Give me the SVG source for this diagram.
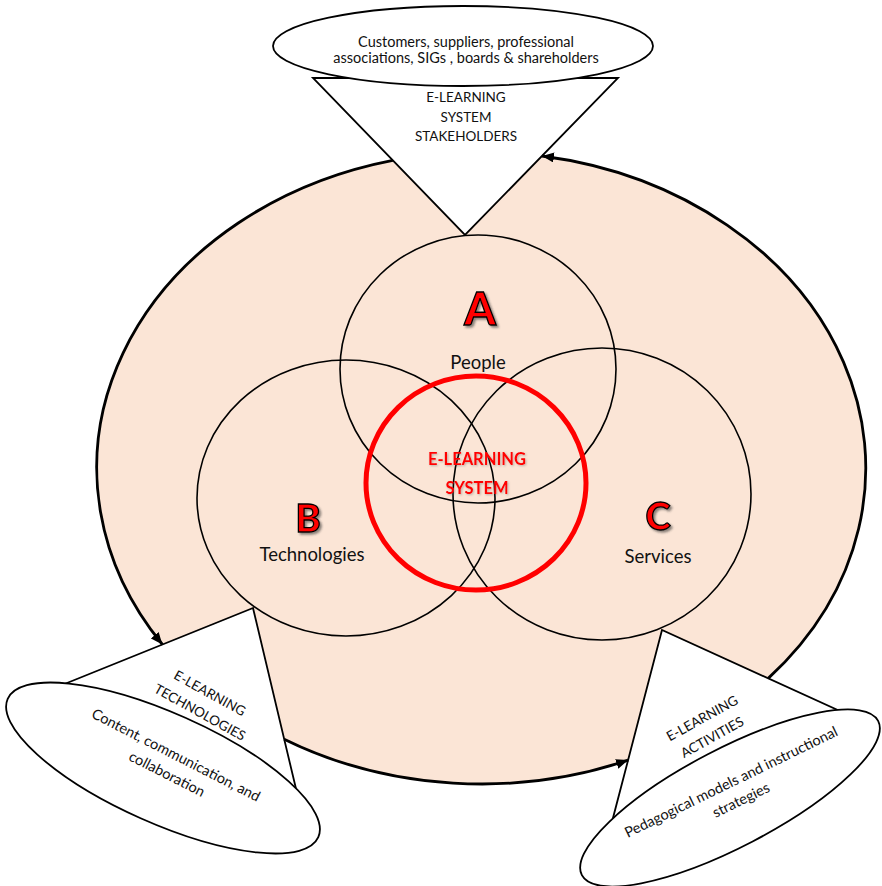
<svg xmlns="http://www.w3.org/2000/svg" width="882" height="886" viewBox="0 0 882 886">
<defs>
<style>
.ln{fill:none;stroke:#000;stroke-width:1.6}
.tri{fill:#fff;stroke:#000;stroke-width:1.8;stroke-linejoin:miter}
.ell{fill:#fff;stroke:#000;stroke-width:1.8}
.arc{fill:none;stroke:#000;stroke-width:2.8}
.t{font-family:Lato,"Open Sans","Liberation Sans",sans-serif;fill:#111;text-anchor:middle}
.s13{font-size:13.5px}
.s14{font-size:14.5px}
.s17{font-size:18.5px}
.big{font-family:Lato,"Liberation Sans",sans-serif;font-weight:900;fill:#ff0000;stroke:#000;stroke-width:1.3;text-anchor:middle}
.red{font-family:Lato,"Liberation Sans",sans-serif;font-weight:bold;font-size:16.5px;fill:#ff0000;text-anchor:middle}
</style>
<marker id="ah" markerUnits="userSpaceOnUse" markerWidth="14" markerHeight="11" refX="12" refY="5" orient="auto">
<path d="M0,0 L12,5 L0,10 z" fill="#000"/>
</marker>
<filter id="sh" x="-20%" y="-20%" width="150%" height="150%">
<feDropShadow dx="2" dy="2" stdDeviation="1" flood-color="#333" flood-opacity="0.55"/>
</filter>
<filter id="sh2" x="-20%" y="-20%" width="150%" height="150%">
<feDropShadow dx="1" dy="1" stdDeviation="1" flood-color="#555" flood-opacity="0.4"/>
</filter>
</defs>

<g id="background">
<ellipse cx="481.5" cy="468" rx="384.5" ry="316" fill="#FBE5D6"/>
</g>

<g id="stakeholders-triangle">
<polygon class="tri" points="313,78 618,78 465,235"/>
<text class="t s13" x="466" y="102">E-LEARNING</text>
<text class="t s13" x="466" y="122">SYSTEM</text>
<text class="t s13" x="466" y="141">STAKEHOLDERS</text>
</g>

<g id="technologies-triangle">
<polygon class="tri" points="253,608 67,683 297,793"/>
<g transform="translate(210,693) rotate(29)"><text class="t s13" x="0" y="5">E-LEARNING</text></g>
<g transform="translate(200,712) rotate(29)"><text class="t s13" x="0" y="5">TECHNOLOGIES</text></g>
</g>

<g id="activities-triangle">
<polygon class="tri" points="662,630 613,818 842,712"/>
<g transform="translate(702,718) rotate(-29)"><text class="t s13" x="0" y="5">E-LEARNING</text></g>
<g transform="translate(712,737) rotate(-29)"><text class="t s13" x="0" y="5">ACTIVITIES</text></g>
</g>

<g id="connectors">
<path class="arc" d="M768.2,678.4 A384.5,316 0 0 0 542,156" marker-end="url(#ah)"/>
<path class="arc" d="M392.8,160.4 A384.5,316 0 0 0 162.4,644.5" marker-end="url(#ah)"/>
<path class="arc" d="M284.2,739.2 A384.5,316 0 0 0 628.1,760.1" marker-end="url(#ah)"/>
</g>

<g id="circle-a">
<ellipse class="ln" cx="478" cy="369" rx="138" ry="134"/>
</g>
<g id="circle-b">
<ellipse class="ln" cx="346" cy="498" rx="149" ry="138"/>
</g>
<g id="circle-c">
<ellipse class="ln" cx="602" cy="494" rx="149" ry="146"/>
</g>
<g id="core">
<ellipse cx="476" cy="483" rx="110" ry="107" fill="none" stroke="#ff0000" stroke-width="5"/>
<text class="red" x="477" y="465" filter="url(#sh2)">E-LEARNING</text>
<text class="red" x="477" y="494" filter="url(#sh2)">SYSTEM</text>
</g>

<g id="label-a">
<text class="big" x="480" y="325" font-size="45" filter="url(#sh)">A</text>
<text class="t s17" x="478" y="369">People</text>
</g>
<g id="label-b">
<text class="big" x="308" y="532" font-size="38" filter="url(#sh)">B</text>
<text class="t s17" x="312" y="561">Technologies</text>
</g>
<g id="label-c">
<text class="big" x="658" y="530" font-size="38" filter="url(#sh)">C</text>
<text class="t s17" x="658" y="563">Services</text>
</g>

<g id="stakeholders-ellipse">
<ellipse class="ell" cx="463" cy="46" rx="190" ry="40"/>
<text class="t s14" x="466" y="47">Customers, suppliers, professional</text>
<text class="t s14" x="466" y="63">associations, SIGs , boards &amp; shareholders</text>
</g>

<g id="technologies-ellipse">
<ellipse class="ell" cx="163" cy="768" rx="170" ry="55" transform="rotate(24 163 768)"/>
<g transform="translate(176,755) rotate(27)"><text class="t s14" x="0" y="5">Content, communication, and</text></g>
<g transform="translate(167,774) rotate(27)"><text class="t s14" x="0" y="5">collaboration</text></g>
</g>

<g id="activities-ellipse">
<ellipse class="ell" cx="730" cy="798" rx="167" ry="49" transform="rotate(-27.5 730 798)"/>
<g transform="translate(731,782) rotate(-26)"><text class="t s14" x="0" y="5">Pedagogical models and instructional</text></g>
<g transform="translate(741,800) rotate(-26)"><text class="t s14" x="0" y="5">strategies</text></g>
</g>
</svg>
